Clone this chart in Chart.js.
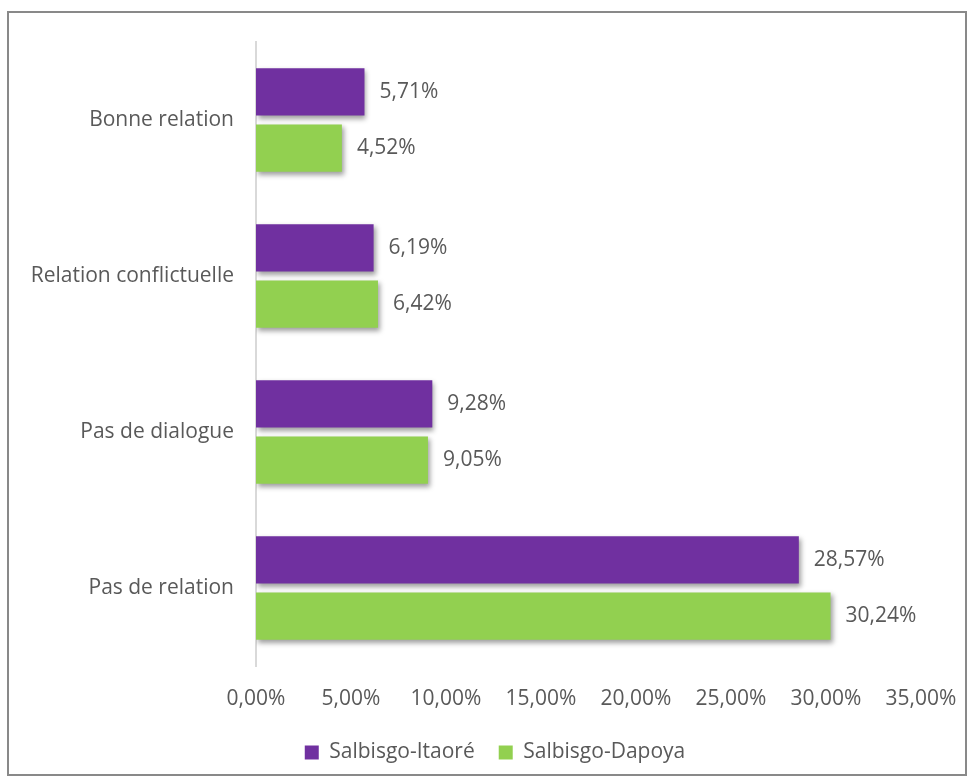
<!DOCTYPE html>
<html>
<head>
<meta charset="utf-8">
<script src="https://cdn.jsdelivr.net/npm/chart.js@4.4.1/dist/chart.umd.min.js"></script>
<style>
  html, body { margin: 0; padding: 0; background: #ffffff; }
  #frame { position: absolute; left: 7px; top: 11px; width: 960px; height: 765px; border: 2px solid #898989; box-sizing: border-box; }
  #wrap { position: absolute; left: 0; top: 0; width: 973px; height: 781px; }
</style>
</head>
<body>
<div id="frame"></div>
<div id="wrap"><canvas id="c"></canvas></div>
<script>
const categories = ["Bonne relation", "Relation conflictuelle", "Pas de dialogue", "Pas de relation"];
const seriesNames = ["Salbisgo-Itaoré", "Salbisgo-Dapoya"];
const itaore = [5.71, 6.19, 9.28, 28.57];
const dapoya = [4.52, 6.42, 9.05, 30.24];
const xTicks = [0, 5, 10, 15, 20, 25, 30, 35];

const FONT = "'Open Sans', sans-serif";
const TEXT = "#595959";
const fmt = v => v.toFixed(2).replace('.', ',') + '%';

const shadowPlugin = {
  id: 'barShadow',
  beforeDatasetsDraw(chart) {
    const ctx = chart.ctx;
    ctx.save();
    ctx.shadowColor = 'rgba(0,0,0,0.38)';
    ctx.shadowBlur = 5;
    ctx.shadowOffsetX = 2;
    ctx.shadowOffsetY = 3;
  },
  afterDatasetsDraw(chart) {
    const ctx = chart.ctx;
    ctx.restore();
    ctx.save();
    ctx.font = "21px " + FONT;
    ctx.fillStyle = TEXT;
    ctx.textAlign = 'left';
    ctx.textBaseline = 'middle';
    chart.data.datasets.forEach((ds, di) => {
      const meta = chart.getDatasetMeta(di);
      meta.data.forEach((el, i) => {
        ctx.fillText(fmt(ds.data[i]), el.x + 15, el.y);
      });
    });
    ctx.restore();
  }
};

new Chart(document.getElementById('c'), {
  type: 'bar',
  data: {
    labels: categories,
    datasets: [
      { label: seriesNames[0], data: itaore, backgroundColor: '#7030A0', categoryPercentage: 0.72, barPercentage: 0.84 },
      { label: seriesNames[1], data: dapoya, backgroundColor: '#92D050', categoryPercentage: 0.72, barPercentage: 0.84 }
    ]
  },
  options: {
    indexAxis: 'y',
    responsive: true,
    maintainAspectRatio: false,
    animation: false,
    layout: { padding: { top: 42, left: 17, right: 0, bottom: 8 } },
    scales: {
      x: {
        min: 0, max: 35,
        afterBuildTicks(scale) { scale.ticks = xTicks.map(v => ({ value: v })); },
        afterFit(scale) { scale.height = 52; scale.paddingRight = 52; },
        grid: { display: false, drawTicks: false },
        border: { display: false },
        ticks: { padding: 20, color: TEXT, font: { family: FONT, size: 21 }, callback: v => fmt(v), maxRotation: 0, autoSkip: false }
      },
      y: {
        afterFit(scale) { scale.width = 239; },
        grid: { display: false, drawTicks: false },
        border: { display: true, color: '#d9d9d9', width: 2 },
        ticks: { padding: 22, color: TEXT, font: { family: FONT, size: 21 } }
      }
    },
    plugins: {
      legend: {
        position: 'bottom',
        labels: { boxWidth: 14, boxHeight: 14, padding: 24, color: TEXT, font: { family: FONT, size: 21 } }
      },
      tooltip: { enabled: false }
    }
  },
  plugins: [shadowPlugin]
});
</script>
</body>
</html>
